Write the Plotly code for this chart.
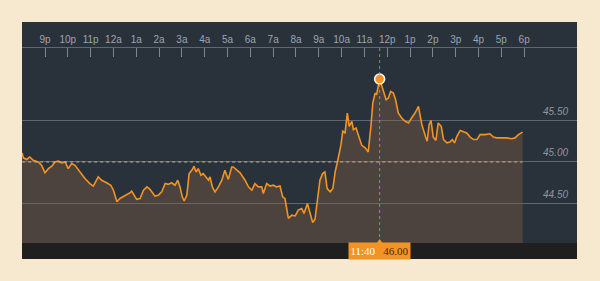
import plotly.graph_objects as go

# ---- data (minutes after 9 pm, price) ----
minutes_after_9pm = [
    -60, -57, -48, -40, -31, -18, -9, 0, 9, 18, 26, 35, 44, 53, 61, 70, 79, 92, 105, 118,
    127, 140, 149, 162, 173, 180, 189, 197, 206, 215, 224, 228, 235, 241, 250, 259, 268, 276,
    289, 298, 307, 316, 324, 333, 342, 349, 355, 361, 366, 373, 379, 386, 392, 397, 403, 410,
    416, 423, 430, 434, 440, 447, 456, 465, 473, 482, 491, 495, 504, 513, 526, 535, 544, 552,
    561, 570, 574, 583, 592, 600, 609, 618, 625, 631, 640, 649, 658, 666, 675, 681, 690, 697,
    704, 710, 716, 723, 730, 736, 742, 750, 757, 763, 769, 776, 778, 783, 789, 795, 800, 807,
    811, 818, 824, 833, 842, 850, 857, 862, 868, 872, 880, 886, 890, 897, 903, 909, 916, 922,
    929, 938, 947, 956, 964, 973, 982, 985, 991, 1001, 1005, 1010, 1015, 1021, 1028, 1034,
    1042, 1048, 1057, 1065, 1071, 1077, 1083, 1092, 1100, 1109, 1118, 1127, 1136, 1144, 1157,
    1170, 1179, 1188, 1201, 1214, 1227, 1236, 1245, 1256,
]
price = [
    45.11, 45.05, 45.03, 45.06, 45.02, 45.00, 44.96, 44.87, 44.92, 44.95, 45.00, 45.01, 44.99,
    45.00, 44.92, 44.98, 44.96, 44.88, 44.80, 44.74, 44.71, 44.82, 44.78, 44.75, 44.72, 44.66,
    44.52, 44.56, 44.58, 44.61, 44.63, 44.65, 44.60, 44.55, 44.56, 44.66, 44.70, 44.67, 44.59,
    44.60, 44.64, 44.74, 44.73, 44.75, 44.72, 44.78, 44.70, 44.58, 44.53, 44.60, 44.86, 44.90,
    44.95, 44.88, 44.92, 44.84, 44.86, 44.82, 44.78, 44.82, 44.70, 44.64, 44.70, 44.78, 44.90,
    44.79, 44.94, 44.94, 44.90, 44.87, 44.78, 44.70, 44.66, 44.74, 44.70, 44.70, 44.62, 44.74,
    44.71, 44.72, 44.70, 44.71, 44.58, 44.56, 44.32, 44.36, 44.35, 44.42, 44.44, 44.38, 44.50,
    44.38, 44.27, 44.31, 44.50, 44.78, 44.86, 44.88, 44.68, 44.64, 44.68, 44.88, 45.00, 45.14,
    45.20, 45.37, 45.35, 45.59, 45.43, 45.49, 45.39, 45.41, 45.33, 45.20, 45.17, 45.12, 45.43,
    45.71, 45.83, 45.81, 46.00, 45.91, 45.83, 45.75, 45.77, 45.85, 45.83, 45.75, 45.59, 45.53,
    45.49, 45.47, 45.53, 45.59, 45.67, 45.59, 45.45, 45.30, 45.25, 45.45, 45.50, 45.30, 45.26,
    45.47, 45.43, 45.27, 45.23, 45.24, 45.27, 45.23, 45.31, 45.38, 45.37, 45.35, 45.30, 45.27,
    45.27, 45.33, 45.33, 45.34, 45.30, 45.29, 45.29, 45.29, 45.28, 45.29, 45.33, 45.36,
]
prev_close = 45.00
cursor_minute = 880
cursor_time_label = "11:40"
cursor_price = 46.00

tick_minutes = [i * 60 for i in range(22)]
tick_labels = ["9p", "10p", "11p", "12a", "1a", "2a", "3a", "4a", "5a", "6a", "7a", "8a",
               "9a", "10a", "11a", "12p", "1p", "2p", "3p", "4p", "5p", "6p"]
y_grid_values = [44.5, 45.0, 45.5]
y_grid_labels = ["44.50", "45.00", "45.50"]

ORANGE = "#f39323"
PANEL = "#29313b"
CREAM = "#f6e9cf"

fig = go.Figure()

fig.add_trace(go.Scatter(
    x=minutes_after_9pm, y=price, mode="lines",
    line=dict(color=ORANGE, width=1.6),
    fill="tozeroy", fillcolor="rgba(140,100,70,0.36)",
    hoverinfo="skip", showlegend=False,
))

# previous close dotted line
fig.add_trace(go.Scatter(
    x=[minutes_after_9pm[0], minutes_after_9pm[-1]], y=[prev_close, prev_close],
    mode="lines", line=dict(color="#c9b28c", width=1, dash="dot"),
    hoverinfo="skip", showlegend=False,
))

# cursor marker
fig.add_trace(go.Scatter(
    x=[cursor_minute], y=[cursor_price], mode="markers",
    marker=dict(color=ORANGE, size=10, line=dict(color="white", width=1.5)),
    hoverinfo="skip", showlegend=False,
))

shapes = [
    # top band of panel (above x axis line)
    dict(type="rect", xref="paper", yref="paper", x0=0, x1=1, y0=1, y1=1 + 26 / 195,
         fillcolor=PANEL, line_width=0, layer="below"),
    # bottom dark strip
    dict(type="rect", xref="paper", yref="paper", x0=0, x1=1, y0=-16 / 195, y1=0,
         fillcolor="#1f1f1f", line_width=0, layer="above"),
    # cursor vertical dotted line
    dict(type="line", xref="x", yref="paper", x0=cursor_minute, x1=cursor_minute, y0=0, y1=1,
         line=dict(color="rgba(243,147,35,0.75)", width=1, dash="dot"), layer="above"),
    # label pointer triangle
    dict(type="path", xref="x", yref="paper",
         path=f"M {cursor_minute-8},{-0.2/195} L {cursor_minute},{4/195} L {cursor_minute+8},{-0.2/195} Z",
         fillcolor=ORANGE, line_width=0, layer="above"),
]

annotations = [
    dict(x=cursor_minute, xref="x", y=-8 / 195, yref="paper",
         text=f"<span style='color:white'>{cursor_time_label}</span>&nbsp;&nbsp;&nbsp;{cursor_price:.2f}",
         showarrow=False, bgcolor=ORANGE, font=dict(family="Liberation Serif", size=11, color="#3a2a1a"),
         width=57, height=12, xanchor="center", yanchor="middle", borderpad=2),
]
for v, t in zip(y_grid_values, y_grid_labels):
    annotations.append(dict(x=1, xref="paper", xanchor="right", xshift=-7,
                            y=v, yref="y", yanchor="middle", yshift=9,
                            text=f"<i>{t}</i>", showarrow=False,
                            font=dict(family="Liberation Sans", size=10, color="#8d97a2")))

fig.update_layout(
    width=600, height=281,
    margin=dict(l=22, r=23, t=48, b=38),
    paper_bgcolor=CREAM, plot_bgcolor=PANEL,
    shapes=shapes, annotations=annotations,
    xaxis=dict(
        side="top", range=[-60.5, 1399], tickvals=tick_minutes, ticktext=tick_labels,
        showgrid=False, zeroline=False, showline=True, linecolor="#5e6872", linewidth=1,
        ticks="inside", ticklen=9, tickcolor="#7c8791", tickwidth=1,
        tickfont=dict(family="Liberation Sans", size=10, color="#9ca6b0"),
        fixedrange=True,
    ),
    yaxis=dict(
        range=[44.024, 46.373], tickvals=y_grid_values, showticklabels=False,
        showgrid=True, gridcolor="#5d6772", gridwidth=1, zeroline=False, showline=False,
        fixedrange=True,
    ),
)

fig.write_html("out.html")
